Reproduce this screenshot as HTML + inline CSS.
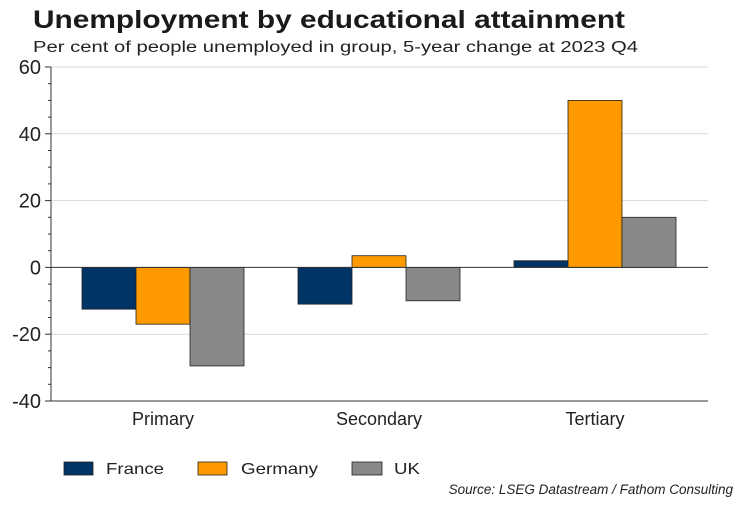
<!DOCTYPE html>
<html><head><meta charset="utf-8"><style>
body{margin:0;background:#fff;font-family:"Liberation Sans",Arial,sans-serif}
svg text{font-family:"Liberation Sans",Arial,sans-serif}
</style></head><body>
<svg id="c" width="750" height="500" xmlns="http://www.w3.org/2000/svg">
<text x="33" y="28" font-size="25" font-weight="bold" fill="#1a1a1a" textLength="592" lengthAdjust="spacingAndGlyphs">Unemployment by educational attainment</text>
<text x="33" y="52" font-size="15.5" fill="#222" textLength="605" lengthAdjust="spacingAndGlyphs">Per cent of people unemployed in group, 5-year change at 2023 Q4</text>
<g id="grid"></g><g id="bars"></g><g id="axes"></g>
<g>
<rect x="64" y="462" width="29" height="13" fill="#003366" stroke="#222" stroke-width="0.8"/>
<text x="106" y="474" font-size="16" fill="#222" textLength="58" lengthAdjust="spacingAndGlyphs">France</text>
<rect x="198" y="462" width="29" height="13" fill="#ff9900" stroke="#222" stroke-width="0.8"/>
<text x="241" y="474" font-size="16" fill="#222" textLength="77" lengthAdjust="spacingAndGlyphs">Germany</text>
<rect x="352" y="462" width="30" height="13" fill="#888888" stroke="#222" stroke-width="0.8"/>
<text x="394" y="474" font-size="16" fill="#222" textLength="26" lengthAdjust="spacingAndGlyphs">UK</text>
</g>
<text x="733" y="494" font-size="13.5" font-style="italic" fill="#222" text-anchor="end">Source: LSEG Datastream / Fathom Consulting</text>
</svg>
<script>
const categories=["Primary","Secondary","Tertiary"];
const france=[-12.5,-11,2];
const germany=[-17,3.5,50];
const uk=[-29.5,-10,15];
const yTicks=[60,40,20,0,-20,-40];
const seriesNames=["france","germany","uk"];
const colors=["#003366","#ff9900","#888888"];
const NS="http://www.w3.org/2000/svg";
const yMin=-40,yMax=60,plotTop=67,plotBot=401,left=51,right=708,bandStart=55,band=216;
const y=v=>plotBot-(v-yMin)/(yMax-yMin)*(plotBot-plotTop);
const xc=i=>bandStart+band*(i+0.5);
function mk(t,a,p){const e=document.createElementNS(NS,t);for(const k in a)e.setAttribute(k,a[k]);p.appendChild(e);return e;}
const grid=document.getElementById("grid"),bars=document.getElementById("bars"),axes=document.getElementById("axes");
yTicks.forEach(v=>{
 if(v!==0&&v!==yMin){const g=mk("line",{x1:left,x2:right,y1:y(v),y2:y(v),stroke:"#d9d9d9","stroke-width":1},grid);
 
 }
 const tk=mk("line",{x1:left-6,x2:left,y1:y(v),y2:y(v),stroke:"#333"},axes);
 
 
 const t=mk("text",{x:left-10,y:y(v)+7,"font-size":20,"text-anchor":"end",fill:"#222"},axes);t.textContent=v;
 
 
});
for(let v=yMin;v<=yMax;v+=5){if(v%20===0)continue;
 const m=mk("line",{x1:left-3,x2:left,y1:y(v),y2:y(v),stroke:"#333"},axes);
 
 }
const series=[france,germany,uk];const bw=54;
series.forEach((s,si)=>s.forEach((v,i)=>{
 const x0=xc(i)-bw*1.5+si*bw;const y0=Math.min(y(v),y(0));
 const r=mk("rect",{x:x0,y:y0,width:bw,height:Math.abs(y(v)-y(0)),fill:colors[si],stroke:"#222","stroke-width":0.8},bars);
 
 
}));
const za=mk("line",{x1:left,x2:right,y1:y(0),y2:y(0),stroke:"#333"},axes);


const ya=mk("line",{x1:left,x2:left,y1:plotTop,y2:plotBot,stroke:"#333"},axes);


const xa=mk("line",{x1:left,x2:right,y1:plotBot,y2:plotBot,stroke:"#333"},axes);


categories.forEach((c,i)=>{
 const t=mk("text",{x:xc(i),y:425,"font-size":18,"text-anchor":"middle",fill:"#222"},axes);t.textContent=c;
 
 
});
</script>
</body></html>
